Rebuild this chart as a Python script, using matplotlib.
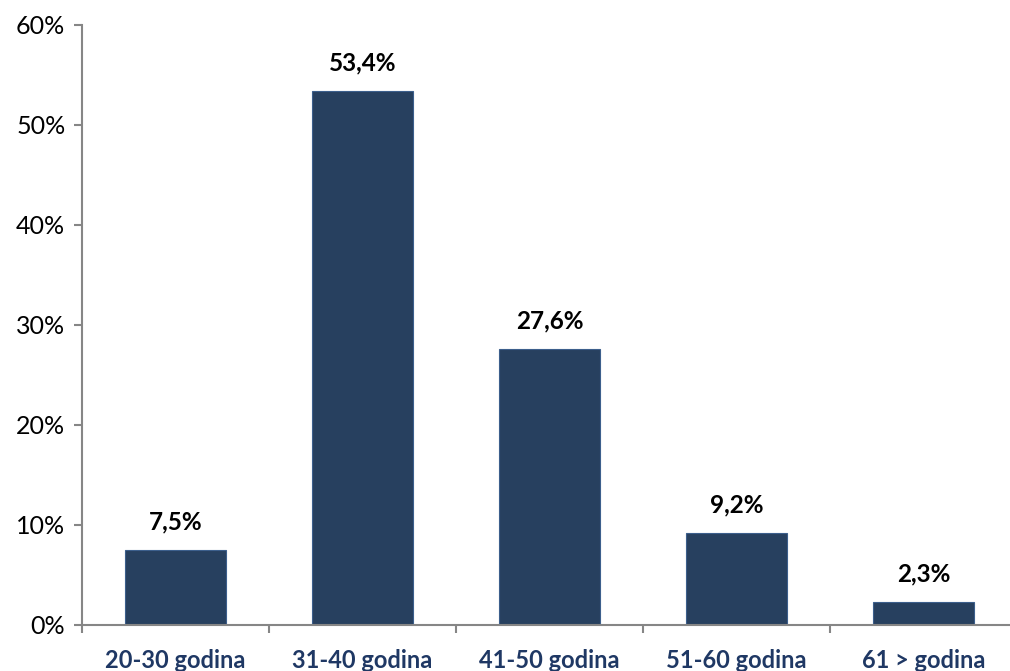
import matplotlib.pyplot as plt

categories = ["20-30 godina", "31-40 godina", "41-50 godina", "51-60 godina", "61 > godina"]
values = [7.5, 53.4, 27.6, 9.2, 2.3]
value_labels = ["7,5%", "53,4%", "27,6%", "9,2%", "2,3%"]
y_ticks = [0, 10, 20, 30, 40, 50, 60]

plt.rcParams['font.family'] = ['Lato', 'DejaVu Sans']

fig = plt.figure(figsize=(10.1, 6.71), dpi=100)
ax = fig.add_axes([82 / 1010, 1 - 625 / 671, 935 / 1010, 600 / 671])

x = list(range(len(categories)))
ax.bar(x, values, width=0.545, color='#27405F', edgecolor='#3C5F8C', linewidth=0.8, zorder=2)

for xi, v, lab in zip(x, values, value_labels):
    ax.annotate(lab, (xi, v), xytext=(0, 20), textcoords='offset points',
                ha='center', va='center', fontsize=17.5, fontweight='bold', color='black')

ax.set_xlim(-0.5, len(categories) - 0.5)
ax.set_ylim(0, 60)
ax.set_yticks(y_ticks)
ax.set_yticklabels([f"{t}%" for t in y_ticks], fontsize=18)

ax.set_xticks([i - 0.5 for i in range(len(categories) + 1)])
ax.set_xticklabels([])
ax.set_xticks(x, minor=True)
ax.set_xticklabels(categories, minor=True, fontsize=17, fontweight='bold', color='#1F3864')
ax.tick_params(axis='x', which='minor', length=0, pad=17)
ax.tick_params(axis='x', which='major', length=6, width=1.5, color='#868686')
ax.tick_params(axis='y', length=6, width=1.5, color='#868686', pad=6)

for s in ['top', 'right']:
    ax.spines[s].set_visible(False)
for s in ['left', 'bottom']:
    ax.spines[s].set_color('#868686')
    ax.spines[s].set_linewidth(1.5)

fig.savefig("out.png", dpi=100)
